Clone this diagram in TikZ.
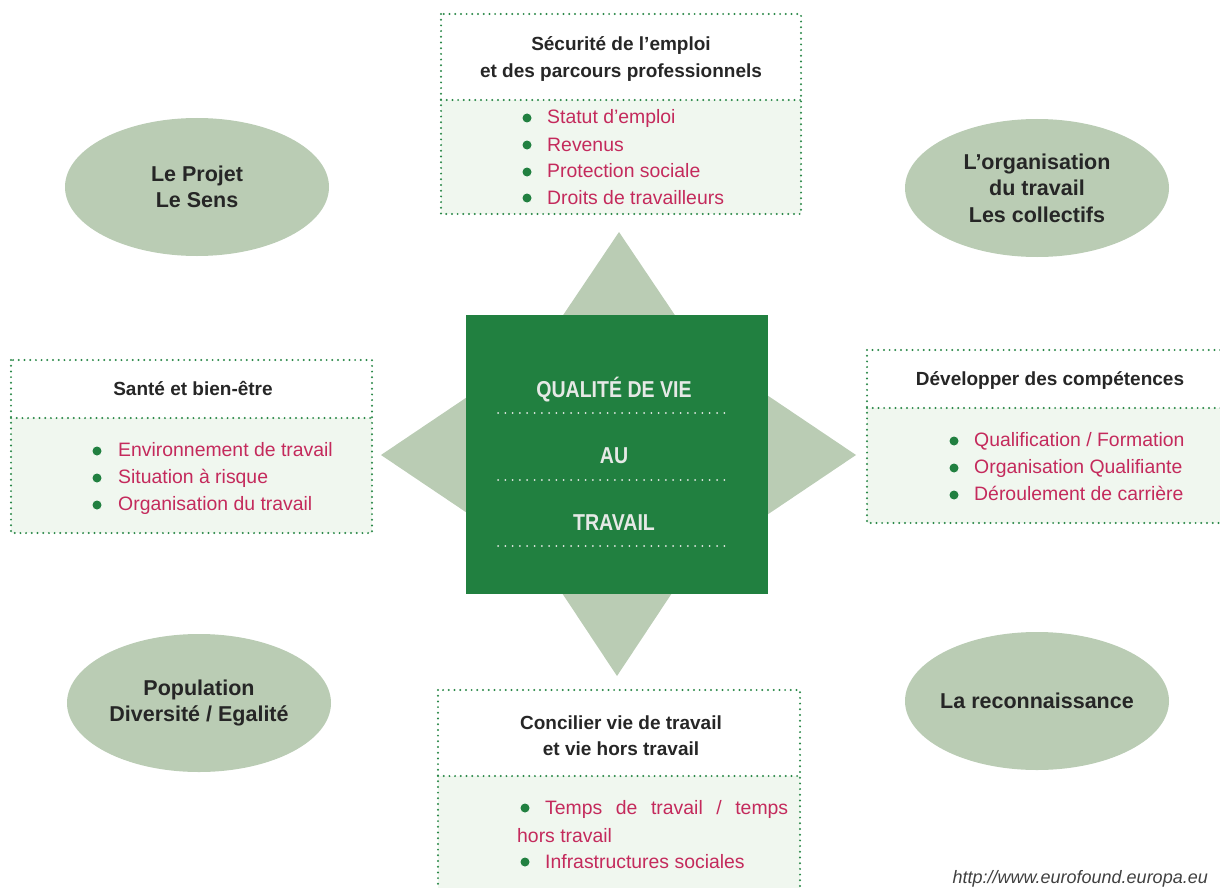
\documentclass[tikz,border=0pt]{standalone}
\usepackage{fontspec}
\setmainfont{Liberation Sans}
\newfontfamily\narrowfont[FakeStretch=0.85]{Liberation Sans}
\usetikzlibrary{shapes.geometric}
\definecolor{deepgreen}{HTML}{218040}
\definecolor{sage}{HTML}{BACCB4}
\definecolor{pale}{HTML}{F0F7EF}
\definecolor{dotgreen}{HTML}{2A8848}
\definecolor{rose}{HTML}{C42A5C}
\definecolor{ink}{HTML}{262626}
\definecolor{ghost}{HTML}{E6E9E6}
\definecolor{urlgray}{HTML}{404040}

\begin{document}
\begin{tikzpicture}[x=1pt,y=-1pt]
\tikzstyle{every node}=[inner sep=0pt]
\tikzstyle{frame}=[draw=dotgreen,line width=2.2pt,dash pattern=on 0pt off 5.7pt,line cap=round]
\tikzstyle{head}=[anchor=base,text=ink,font=\bfseries\fontsize{19}{20}\selectfont]
\tikzstyle{item}=[anchor=base west,text=rose,font=\fontsize{19.4}{20}\selectfont]
\tikzstyle{dot}=[circle,fill=deepgreen,minimum size=9pt]
\tikzstyle{blob}=[ellipse,fill=sage,minimum width=264pt,minimum height=138pt]
\tikzstyle{blobtext}=[text=ink,align=center,font=\bfseries\fontsize{21.5}{26.5}\selectfont]
\tikzstyle{core}=[anchor=base,text=ghost,font=\narrowfont\bfseries\fontsize{23}{24}\selectfont]
\tikzstyle{coreline}=[draw=ghost,line width=2pt,dash pattern=on 0pt off 7.3pt,line cap=round]
\useasboundingbox (0,0) rectangle (1220,888);

% star behind the square
\fill[sage] (619,232)--(732,400)--(506,400)--cycle;
\fill[sage] (381,455)--(540,348)--(540,562)--cycle;
\fill[sage] (856,455)--(700,350)--(700,560)--cycle;
\fill[sage] (617,676)--(507,510)--(727,510)--cycle;
\fill[deepgreen] (466,315) rectangle (768,594);
\node[core] (q1) at (614,397) {QUALITÉ DE VIE};
\node[core] (q2) at (614,463) {AU};
\node[core] (q3) at (614,530) {TRAVAIL};
\draw[coreline] (498,413)--(730,413);
\draw[coreline] (498,480)--(730,480);
\draw[coreline] (498,546)--(730,546);

% top box
\fill[pale] (441,100) rectangle (801,214);
\draw[frame] (441,14) rectangle (801,214);
\draw[frame] (441,100)--(801,100);
\node[head] (sec1) at (621,51) {Sécurité de l’emploi};
\node[head] (sec2) at (621,78) {et des parcours professionnels};
\node[dot] (sb1) at (527,118) {};
\node[item] (si1) at (547,124) {Statut d’emploi};
\node[dot] (sb2) at (527,145) {};
\node[item] (si2) at (547,151) {Revenus};
\node[dot] (sb3) at (527,172) {};
\node[item] (si3) at (547,177) {Protection sociale};
\node[dot] (sb4) at (527,198) {};
\node[item] (si4) at (547,204) {Droits de travailleurs};

% left box
\fill[pale] (11,418) rectangle (372,533);
\draw[frame] (11,360) rectangle (372,533);
\draw[frame] (11,418)--(372,418);
\node[head] (san) at (193,395) {Santé et bien-être};
\node[dot] (lb1) at (97,451) {};
\node[item] (li1) at (118,456) {Environnement de travail};
\node[dot] (lb2) at (97,478) {};
\node[item] (li2) at (118,483) {Situation à risque};
\node[dot] (lb3) at (97,505) {};
\node[item] (li3) at (118,510) {Organisation du travail};

% right box
\fill[pale] (867,408) rectangle (1224,523);
\draw[frame] (867,350) rectangle (1224,523);
\draw[frame] (867,408)--(1224,408);
\node[head] (dev) at (1050,385) {Développer des compétences};
\node[dot] (rb1) at (954,441) {};
\node[item] (ri1) at (974,446) {Qualification / Formation};
\node[dot] (rb2) at (954,468) {};
\node[item] (ri2) at (974,473) {Organisation Qualifiante};
\node[dot] (rb3) at (954,495) {};
\node[item] (ri3) at (974,500) {Déroulement de carrière};

% bottom box
\fill[pale] (438,776) rectangle (800,892);
\draw[frame] (438,690) rectangle (800,892);
\draw[frame] (438,776)--(800,776);
\node[head] (con1) at (621,729) {Concilier vie de travail};
\node[head] (con2) at (621,755) {et vie hors travail};
\node[dot] (bb1) at (525,808) {};
\node[item] (bi1) at (545,814) {\hbox to 243pt{Temps\hfill de\hfill travail\hfill /\hfill temps}};
\node[item] (bi1b) at (517,842) {hors travail};
\node[dot] (bb2) at (525,862) {};
\node[item] (bi2) at (545,868) {Infrastructures sociales};

% ellipses
\node[blob] (projet) at (197,187) {};
\node[blobtext] (projetT) at (projet) {Le Projet\\Le Sens};
\node[blob] (orga) at (1037,188) {};
\node[blobtext] (orgaT) at (orga) {L’organisation\\du travail\\Les collectifs};
\node[blob] (popu) at (199,703) {};
\node[blobtext] (popuT) at (popu) {Population\\Diversité / Egalité};
\node[blob] (reco) at (1037,701) {};
\node[blobtext] (recoT) at (reco) {La reconnaissance};

\node[anchor=base east,text=urlgray,font=\itshape\fontsize{18}{20}\selectfont] (url) at (1208,883) {http://www.eurofound.europa.eu};
\end{tikzpicture}
\end{document}
